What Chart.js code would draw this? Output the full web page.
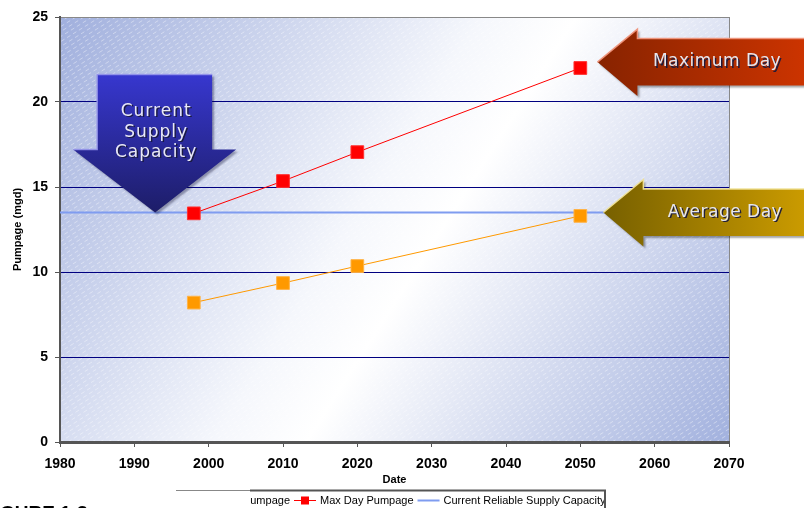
<!DOCTYPE html>
<html>
<head>
<meta charset="utf-8">
<script src="https://cdn.jsdelivr.net/npm/chart.js@4.4.1/dist/chart.umd.min.js"></script>
<style>
html, body { margin: 0; padding: 0; background: #fff; }
#wrap { width: 804px; height: 508px; position: relative; }
</style>
</head>
<body>
<div id="wrap"><canvas id="myChart"></canvas></div>
<script>
// values
var years = [1998, 2010, 2020, 2050];
var avgDay = [8.2, 9.35, 10.35, 13.3];
var maxDay = [13.45, 15.35, 17.05, 22.0];
var supplyYears = [1980, 2070];
var supplyCapacity = [13.5, 13.5];
var seriesNames = ['Avg Day Pumpage', 'Max Day Pumpage', 'Current Reliable Supply Capacity'];
var xTickRange = [1980, 2070, 10];
var yTickRange = [0, 25, 5];
var supplyText = ['Current', 'Supply', 'Capacity'];
var maxText = 'Maximum Day';
var avgText = 'Average Day';
var figureLabel = 'FIGURE 1-3';

function toPoints(xs, ys) {
    var pts = [];
    for (let i = 0; i < xs.length; i++) {
        pts.push({x: xs[i], y: ys[i]});
    }
    return pts;
}

function shadowText(ctx, txt, x, y, fill) {
    ctx.save();
    ctx.shadowColor = 'rgba(25,25,60,0.95)';
    ctx.shadowOffsetX = 1.5;
    ctx.shadowOffsetY = 1.5;
    ctx.shadowBlur = 0.5;
    ctx.fillStyle = fill;
    ctx.fillText(txt, x, y);
    ctx.restore();
}

function pathOf(ctx, tx, ty, pts) {
    ctx.beginPath();
    for (let i = 0; i < pts.length; i++) {
        if (i == 0) ctx.moveTo(tx + pts[i][0], ty + pts[i][1]);
        else ctx.lineTo(tx + pts[i][0], ty + pts[i][1]);
    }
    ctx.closePath();
}

function downArrow(ctx, tx, ty) {
    var pts = [[-58, -138], [57, -138], [57, -63], [81, -63], [0, 0], [-82, -63], [-58, -63]];
    ctx.save();
    pathOf(ctx, tx, ty, pts);
    var g = ctx.createLinearGradient(0, ty - 138, 0, ty);
    g.addColorStop(0, '#3737cf');
    g.addColorStop(1, '#1d1d68');
    ctx.shadowColor = 'rgba(0,0,40,0.35)';
    ctx.shadowOffsetX = 2;
    ctx.shadowOffsetY = 2;
    ctx.shadowBlur = 2;
    ctx.fillStyle = g;
    ctx.fill();
    ctx.shadowColor = 'transparent';
    ctx.strokeStyle = 'rgba(150,150,235,0.9)';
    ctx.lineWidth = 1.5;
    ctx.beginPath();
    ctx.moveTo(tx - 82, ty - 63);
    ctx.lineTo(tx - 58, ty - 63);
    ctx.lineTo(tx - 58, ty - 138);
    ctx.lineTo(tx + 57, ty - 138);
    ctx.stroke();
    ctx.font = '17px "DejaVu Sans", Verdana, sans-serif';
    ctx.letterSpacing = '1px';
    ctx.textAlign = 'center';
    ctx.textBaseline = 'middle';
    shadowText(ctx, supplyText[0], tx + 1, ty - 101, '#e8e8f6');
    shadowText(ctx, supplyText[1], tx + 1, ty - 80, '#e8e8f6');
    shadowText(ctx, supplyText[2], tx + 1, ty - 60, '#e8e8f6');
    ctx.restore();
}

function leftArrow(ctx, tx, ty, right, c0, c1, edge, label, labelX) {
    var w = right - tx;
    var pts = [[0, 0], [40, -33], [40, -23.5], [w, -23.5], [w, 23.5], [40, 23.5], [40, 34]];
    ctx.save();
    pathOf(ctx, tx, ty, pts);
    var g = ctx.createLinearGradient(tx, 0, right, 0);
    g.addColorStop(0, c0);
    g.addColorStop(1, c1);
    ctx.shadowColor = 'rgba(0,0,0,0.35)';
    ctx.shadowOffsetX = 2;
    ctx.shadowOffsetY = 2;
    ctx.shadowBlur = 2;
    ctx.fillStyle = g;
    ctx.fill();
    ctx.shadowColor = 'transparent';
    ctx.strokeStyle = edge;
    ctx.lineWidth = 1.5;
    ctx.beginPath();
    ctx.moveTo(tx, ty);
    ctx.lineTo(tx + 40, ty - 33);
    ctx.lineTo(tx + 40, ty - 23.5);
    ctx.lineTo(right, ty - 23.5);
    ctx.stroke();
    ctx.font = '17px "DejaVu Sans", Verdana, sans-serif';
    ctx.letterSpacing = '0.5px';
    ctx.textAlign = 'center';
    ctx.textBaseline = 'middle';
    shadowText(ctx, label, labelX, ty, '#e6e6ee');
    ctx.restore();
}

var decor = {
    id: 'decor',
    beforeDraw: function(chart) {
        var ctx = chart.ctx;
        var a = chart.chartArea;
        ctx.save();
        var g = ctx.createLinearGradient(a.left, a.top, a.right, a.bottom);
        g.addColorStop(0, '#a0afdd');
        g.addColorStop(0.45, '#f5f7fc');
        g.addColorStop(0.55, '#ffffff');
        g.addColorStop(1, '#a2b1de');
        ctx.fillStyle = g;
        ctx.fillRect(a.left, a.top, a.right - a.left, a.bottom - a.top);
        // faint white hatching
        ctx.beginPath();
        ctx.rect(a.left, a.top, a.right - a.left, a.bottom - a.top);
        ctx.clip();
        ctx.strokeStyle = 'rgba(255,255,255,0.4)';
        ctx.lineWidth = 1;
        ctx.setLineDash([4, 3]);
        var h = a.bottom - a.top;
        for (let x0 = a.left - h * 1.6; x0 < a.right; x0 += 8) {
            ctx.beginPath();
            ctx.moveTo(x0, a.bottom);
            ctx.lineTo(x0 + h * 1.6, a.top);
            ctx.stroke();
        }
        ctx.restore();
    },
    afterDraw: function(chart) {
        var ctx = chart.ctx;
        var xs = chart.scales.x;
        var ys = chart.scales.y;

        downArrow(ctx, xs.getPixelForValue(1992.8), ys.getPixelForValue(supplyCapacity[0]));
        leftArrow(ctx, xs.getPixelForValue(2052.3), ys.getPixelForValue(22.35), chart.width + 4,
            '#872300', '#cd3400', 'rgba(240,150,125,0.95)', maxText, 717);
        leftArrow(ctx, xs.getPixelForValue(2053.1), ys.getPixelForValue(supplyCapacity[0]), chart.width + 4,
            '#776000', '#cc9c00', 'rgba(240,225,150,0.95)', avgText, 725);

        // legend (left part is covered in the original)
        var ds = chart.data.datasets;
        var ly = 500.5;
        ctx.save();
        ctx.strokeStyle = '#888';
        ctx.lineWidth = 1;
        ctx.beginPath();
        ctx.moveTo(176, 490.5);
        ctx.lineTo(250, 490.5);
        ctx.stroke();
        ctx.strokeStyle = '#555';
        ctx.lineWidth = 2;
        ctx.beginPath();
        ctx.moveTo(250, 490.5);
        ctx.lineTo(605, 490.5);
        ctx.lineTo(605, 510);
        ctx.stroke();
        ctx.beginPath();
        ctx.rect(250, 486, 354, 30);
        ctx.clip();
        ctx.font = '11px "Liberation Sans", Arial, sans-serif';
        ctx.textBaseline = 'middle';
        ctx.fillStyle = '#000';
        var x = 290 - ctx.measureText(ds[0].label).width;
        for (let i = 0; i < ds.length; i++) {
            ctx.fillText(ds[i].label, x, ly);
            x += ctx.measureText(ds[i].label).width + 4;
            if (i == ds.length - 1) break;
            var nd = ds[i + 1];
            ctx.strokeStyle = nd.borderColor;
            ctx.lineWidth = nd.borderWidth;
            ctx.beginPath();
            ctx.moveTo(x, ly);
            ctx.lineTo(x + 22, ly);
            ctx.stroke();
            if (nd.pointRadius > 0) {
                ctx.fillStyle = nd.pointBackgroundColor;
                ctx.fillRect(x + 7, ly - 4, 8, 8);
                ctx.fillStyle = '#000';
            }
            x += 26;
        }
        ctx.restore();

        ctx.save();
        ctx.font = 'bold 19px "Liberation Sans", Arial, sans-serif';
        ctx.fillStyle = '#000';
        ctx.textBaseline = 'alphabetic';
        ctx.fillText(figureLabel, -ctx.measureText('FI').width, 519);
        ctx.restore();
    }
};

Chart.defaults.font.family = '"Liberation Sans", Arial, sans-serif';
Chart.defaults.color = '#000';

var ctx = document.getElementById('myChart').getContext('2d');
var chart = new Chart(ctx, {
    type: 'line',
    data: {
        datasets: [{
            label: seriesNames[0],
            data: toPoints(years, avgDay),
            borderColor: '#ff9900',
            backgroundColor: '#ff9900',
            pointBackgroundColor: '#ff9900',
            pointBorderColor: '#ffb347',
            borderWidth: 1,
            pointStyle: 'rect',
            pointRadius: 9,
            pointBorderWidth: 1,
            order: 2
        }, {
            label: seriesNames[1],
            data: toPoints(years, maxDay),
            borderColor: '#ff0000',
            backgroundColor: '#ff0000',
            pointBackgroundColor: '#ff0000',
            pointBorderColor: '#ff3030',
            borderWidth: 1,
            pointStyle: 'rect',
            pointRadius: 9,
            pointBorderWidth: 1,
            order: 1
        }, {
            label: seriesNames[2],
            data: toPoints(supplyYears, supplyCapacity),
            borderColor: '#7f9cf0',
            backgroundColor: '#7f9cf0',
            borderWidth: 2,
            pointRadius: 0,
            order: 3
        }]
    },
    options: {
        responsive: true,
        maintainAspectRatio: false,
        animation: false,
        layout: { padding: { top: 17, right: 75, left: 0, bottom: 0 } },
        plugins: {
            legend: { display: false },
            tooltip: { enabled: false }
        },
        scales: {
            x: {
                type: 'linear',
                min: xTickRange[0],
                max: xTickRange[1],
                ticks: {
                    stepSize: xTickRange[2],
                    font: { size: 14, weight: 'bold' },
                    padding: 9,
                    maxRotation: 0,
                    callback: function(v) { return String(v); }
                },
                grid: {
                    color: function(c) { return c.tick && c.tick.value == xTickRange[1] ? '#888' : 'rgba(0,0,0,0)'; },
                    tickColor: '#555',
                    tickLength: 5
                },
                border: { color: '#555', width: 3 },
                title: {
                    display: true,
                    text: 'Date',
                    font: { size: 11, weight: 'bold' },
                    padding: { top: 0, bottom: 21 }
                },
                afterFit: function(s) { s.height = 66; }
            },
            y: {
                min: yTickRange[0],
                max: yTickRange[1],
                ticks: {
                    stepSize: yTickRange[2],
                    font: { size: 14, weight: 'bold' },
                    padding: 7
                },
                grid: {
                    color: function(c) {
                        if (!c.tick) return 'rgba(0,0,0,0)';
                        if (c.tick.value == yTickRange[1]) return '#888';
                        if (c.tick.value == yTickRange[0]) return 'rgba(0,0,0,0)';
                        return '#000080';
                    },
                    tickColor: '#555',
                    tickLength: 5
                },
                border: { color: '#555', width: 2 },
                title: {
                    display: true,
                    text: 'Pumpage (mgd)',
                    font: { size: 11, weight: 'bold' },
                    padding: { top: 11, bottom: 0 }
                },
                afterFit: function(s) { s.width = 60; }
            }
        }
    },
    plugins: [decor]
});
</script>
</body>
</html>
